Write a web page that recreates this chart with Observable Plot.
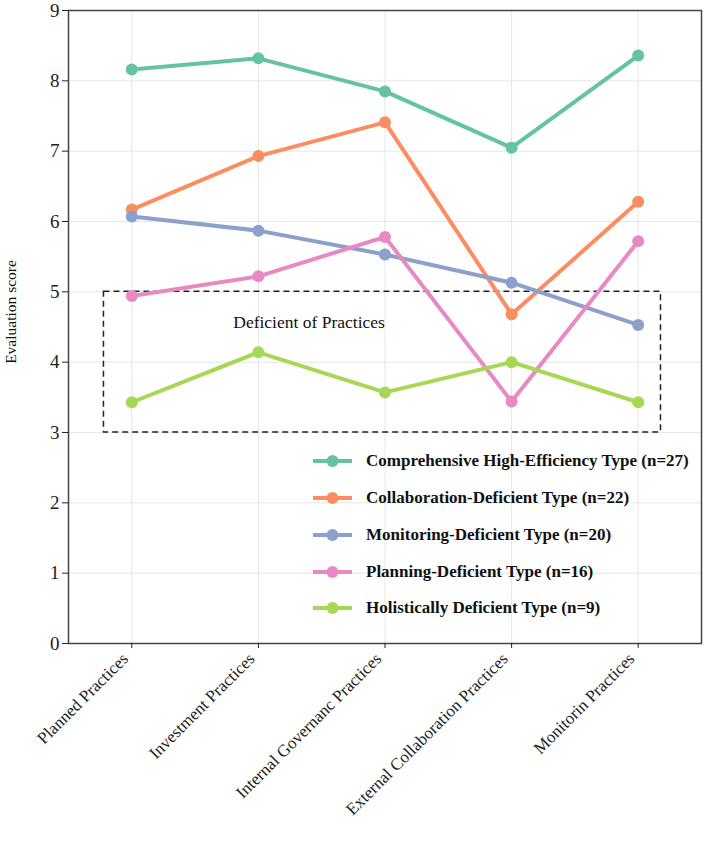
<!DOCTYPE html>
<html>
<head>
<meta charset="utf-8">
<script src="https://cdn.jsdelivr.net/npm/d3@7"></script>
<script src="https://cdn.jsdelivr.net/npm/@observablehq/plot@0.6"></script>
<style>
  html, body { margin: 0; padding: 0; background: #fff; }
  #chart { position: relative; width: 706px; height: 845px; }
  #legend { position: absolute; left: 313px; top: 443px; font-family: "Liberation Serif", "Times New Roman", serif; font-weight: bold; font-size: 17px; color: #111; }
  #legend .row { display: flex; align-items: center; height: 36.75px; }
  #legend svg { margin-right: 13px; }
</style>
</head>
<body>
<div id="chart"><div id="legend"></div></div>
<script>
// Practice dimensions along the x axis
const categories = [
  "Planned Practices",
  "Investment Practices",
  "Internal Governanc Practices",
  "External Collaboration Practices",
  "Monitorin Practices"
];

// Cluster types and their sizes
const seriesNames = [
  "Comprehensive High-Efficiency Type (n=27)",
  "Collaboration-Deficient Type (n=22)",
  "Monitoring-Deficient Type (n=20)",
  "Planning-Deficient Type (n=16)",
  "Holistically Deficient Type (n=9)"
];
const seriesColors = ["#66c2a5", "#fc8d62", "#8da0cb", "#e78ac3", "#a6d854"];

// Mean evaluation scores per cluster, one value per practice
const comprehensive = [8.16, 8.32, 7.85, 7.05, 8.36];
const collaborationDeficient = [6.17, 6.93, 7.41, 4.68, 6.28];
const monitoringDeficient = [6.07, 5.87, 5.53, 5.13, 4.53];
const planningDeficient = [4.94, 5.22, 5.78, 3.44, 5.72];
const holisticallyDeficient = [3.43, 4.14, 3.57, 4.00, 3.43];

// Y ticks
const yTicks = [0, 1, 2, 3, 4, 5, 6, 7, 8, 9];

// Highlighted "deficient" band (x in category index units, y in score units)
const bandX = [-0.22, 4.18];
const bandY = [3, 5];
const bandLabel = "Deficient of Practices";
const yLabel = "Evaluation score";

const seriesValues = [comprehensive, collaborationDeficient, monitoringDeficient, planningDeficient, holisticallyDeficient];
const rows = seriesNames.flatMap((name, s) =>
  seriesValues[s].map((value, i) => ({series: name, i, value}))
);

const serif = "'Liberation Serif', 'Times New Roman', serif";

const chart = Plot.plot({
  width: 706,
  height: 845,
  marginLeft: 68,
  marginRight: 5,
  marginTop: 10,
  marginBottom: 202,
  style: {fontFamily: serif, color: "#222", background: "white", overflow: "visible"},
  x: {type: "linear", domain: [-0.5, 4.5]},
  y: {domain: [0, 9]},
  color: {domain: seriesNames, range: seriesColors},
  marks: [
    Plot.gridX(categories.map((_, i) => i), {stroke: "#e6e6e6", strokeOpacity: 1, strokeWidth: 1}),
    Plot.gridY(yTicks, {stroke: "#e6e6e6", strokeOpacity: 1, strokeWidth: 1}),
    Plot.rect([{x1: bandX[0], x2: bandX[1], y1: bandY[0], y2: bandY[1]}], {
      x1: "x1", x2: "x2", y1: "y1", y2: "y2",
      fill: "none", stroke: "#222", strokeWidth: 1.5, strokeDasharray: "6,4"
    }),
    Plot.text([bandLabel], {
      x: 1.40, y: 4.56, text: d => d,
      fontSize: 17.5, fill: "#111", fontFamily: serif
    }),
    Plot.line(rows, {x: "i", y: "value", z: "series", stroke: "series", strokeWidth: 4, strokeLinejoin: "round"}),
    Plot.dot(rows, {x: "i", y: "value", fill: "series", r: 6}),
    Plot.frame({stroke: "#444", strokeWidth: 1.5}),
    Plot.axisY({
      ticks: yTicks, tickSize: 6, tickPadding: 3, fontSize: 19, label: null
    }),
    Plot.text([yLabel], {
      frameAnchor: "left", text: d => d, rotate: -90, textAnchor: "middle",
      dx: -57, dy: -15, fontSize: 15.5, fill: "#111"
    }),
    Plot.axisX({
      ticks: categories.map((_, i) => i), tickFormat: i => categories[i],
      tickRotate: -45, tickSize: 5, tickPadding: 4, fontSize: 17, label: null
    })
  ]
});

document.getElementById("chart").prepend(chart);

// Rotated category labels sit a little lower and to the left of their ticks
d3.select(chart).selectAll("g[aria-label='x-axis tick label']")
  .attr("transform", "translate(-6,13)");

// Legend drawn as a swatch list inside the plot area
const legend = d3.select("#legend");
seriesNames.forEach((name, s) => {
  const row = legend.append("div").attr("class", "row");
  const sw = row.append("svg").attr("width", 40).attr("height", 14);
  sw.append("line").attr("x1", 0).attr("x2", 39).attr("y1", 7).attr("y2", 7)
    .attr("stroke", seriesColors[s]).attr("stroke-width", 4);
  sw.append("circle").attr("cx", 19.5).attr("cy", 7).attr("r", 6).attr("fill", seriesColors[s]);
  row.append("span").text(name);
});
</script>
</body>
</html>
